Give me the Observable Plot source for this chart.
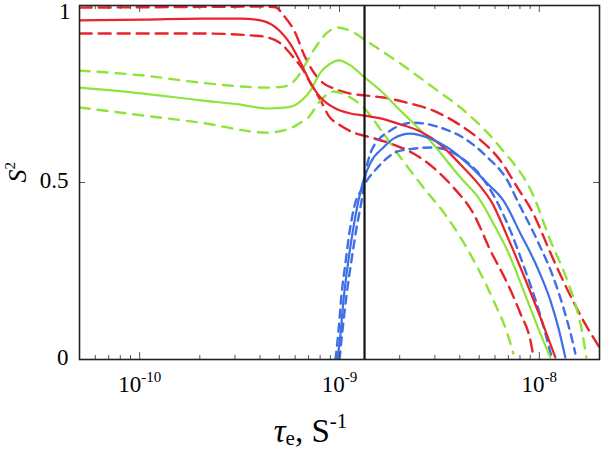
<!DOCTYPE html>
<html><head><meta charset="utf-8">
<script src="https://cdn.jsdelivr.net/npm/d3@7"></script>
<script src="https://cdn.jsdelivr.net/npm/@observablehq/plot@0.6"></script>
<style>
body{margin:0;background:#fff}
svg{display:block}
svg text, svg tspan{font-family:'Liberation Serif','Times New Roman',serif}
</style>
</head><body><div id="chart"></div>
<script>
// tau (s) , S^2 pairs
const redMid = [[5.01e-11,0.958],[1.05e-10,0.960],[2.02e-10,0.963],[3.20e-10,0.963],[4.03e-10,0.958],[4.79e-10,0.938],[5.69e-10,0.890],[6.38e-10,0.839],[7.16e-10,0.782],[8.04e-10,0.740],[9.55e-10,0.709],[1.135e-9,0.695],[1.334e-9,0.689],[1.603e-9,0.681],[2.018e-9,0.664],[2.54e-9,0.644],[3.20e-9,0.607],[4.03e-9,0.551],[5.07e-9,0.489],[5.82e-9,0.441],[6.92e-9,0.347],[8.04e-9,0.260],[1.012e-8,0.119],[1.202e-8,0.006]];
const redHi = [[5.01e-11,0.994],[2.02e-10,0.996],[4.03e-10,0.997],[4.79e-10,0.995],[5.25e-10,0.972],[6.03e-10,0.921],[6.61e-10,0.864],[7.33e-10,0.816],[8.32e-10,0.780],[9.33e-10,0.766],[1.135e-9,0.751],[1.334e-9,0.746],[1.66e-9,0.740],[2.265e-9,0.723],[2.95e-9,0.703],[3.89e-9,0.667],[4.90e-9,0.627],[6.38e-9,0.562],[7.76e-9,0.486],[9.33e-9,0.412],[1.135e-8,0.302],[1.38e-8,0.198],[1.66e-8,0.110],[2.0e-8,0.034]];
const redLo = [[5.01e-11,0.921],[2.02e-10,0.921],[3.715e-10,0.915],[4.365e-10,0.910],[5.07e-10,0.893],[5.89e-10,0.853],[6.61e-10,0.816],[7.16e-10,0.780],[8.04e-10,0.732],[8.81e-10,0.689],[1.012e-9,0.661],[1.175e-9,0.641],[1.38e-9,0.630],[1.80e-9,0.610],[2.344e-9,0.582],[2.95e-9,0.542],[3.715e-9,0.486],[4.68e-9,0.412],[5.69e-9,0.308],[6.92e-9,0.215],[8.04e-9,0.130],[9.02e-9,0.054],[9.33e-9,0.011]];
const greenMid = [[5.01e-11,0.768],[1.05e-10,0.751],[2.02e-10,0.732],[3.20e-10,0.720],[4.365e-10,0.709],[5.50e-10,0.712],[6.17e-10,0.723],[7.16e-10,0.760],[8.04e-10,0.811],[9.02e-10,0.836],[9.89e-10,0.845],[1.135e-9,0.831],[1.303e-9,0.802],[1.603e-9,0.760],[2.018e-9,0.703],[2.754e-9,0.627],[4.03e-9,0.514],[5.07e-9,0.449],[5.89e-9,0.384],[6.92e-9,0.308],[8.71e-9,0.167],[1.012e-8,0.073],[1.135e-8,0.006]];
const greenHi = [[5.01e-11,0.816],[1.05e-10,0.802],[2.02e-10,0.782],[4.365e-10,0.768],[5.25e-10,0.771],[6.24e-10,0.802],[6.61e-10,0.825],[7.41e-10,0.873],[8.71e-10,0.924],[9.77e-10,0.938],[1.175e-9,0.924],[1.38e-9,0.898],[2.018e-9,0.836],[2.95e-9,0.768],[4.365e-9,0.695],[6.38e-9,0.599],[9.33e-9,0.463],[1.135e-8,0.336],[1.38e-8,0.223],[1.531e-8,0.147],[1.64e-8,0.076],[1.718e-8,0.006]];
const greenLo = [[5.01e-11,0.712],[1.05e-10,0.689],[2.02e-10,0.669],[4.365e-10,0.641],[5.69e-10,0.653],[6.38e-10,0.669],[6.92e-10,0.681],[8.04e-10,0.732],[9.33e-10,0.757],[1.135e-9,0.740],[1.318e-9,0.712],[1.66e-9,0.638],[2.018e-9,0.571],[2.63e-9,0.486],[3.467e-9,0.401],[4.03e-9,0.345],[4.90e-9,0.260],[5.89e-9,0.167],[6.92e-9,0.073],[7.41e-9,0.017]];
const blueMid = [[9.77e-10,0.0],[1.012e-9,0.073],[1.047e-9,0.167],[1.096e-9,0.260],[1.161e-9,0.356],[1.23e-9,0.435],[1.318e-9,0.506],[1.429e-9,0.556],[1.66e-9,0.599],[1.862e-9,0.624],[2.265e-9,0.638],[2.754e-9,0.627],[3.467e-9,0.599],[4.365e-9,0.554],[5.50e-9,0.497],[6.61e-9,0.449],[8.04e-9,0.356],[9.77e-9,0.260],[1.135e-8,0.167],[1.245e-8,0.090],[1.349e-8,0.006]];
const blueHi = [[1.0e-9,0.0],[1.035e-9,0.082],[1.084e-9,0.181],[1.148e-9,0.280],[1.216e-9,0.370],[1.303e-9,0.463],[1.365e-9,0.540],[1.462e-9,0.596],[1.80e-9,0.647],[2.344e-9,0.669],[3.20e-9,0.655],[4.365e-9,0.619],[5.50e-9,0.571],[6.92e-9,0.506],[7.76e-9,0.449],[9.77e-9,0.336],[1.175e-8,0.232],[1.318e-8,0.147],[1.462e-8,0.054],[1.514e-8,0.017]];
const blueLo = [[9.55e-10,0.0],[9.89e-10,0.082],[1.023e-9,0.181],[1.072e-9,0.274],[1.122e-9,0.359],[1.19e-9,0.435],[1.29e-9,0.480],[1.549e-9,0.542],[2.018e-9,0.590],[2.95e-9,0.599],[4.03e-9,0.571],[5.07e-9,0.520],[6.10e-9,0.449],[7.16e-9,0.364],[8.51e-9,0.251],[1.012e-8,0.124],[1.16e-8,0.0]];

const markerTau = [1.334e-9];
const xDomain = [5e-11, 2e-8];
const xMajor = [1e-10, 1e-9, 1e-8];
const xMajorLabels = ["10^-10", "10^-9", "10^-8"];
const xMinor = [6e-11,7e-11,8e-11,9e-11,2e-10,3e-10,4e-10,5e-10,6e-10,7e-10,8e-10,9e-10,2e-9,3e-9,4e-9,5e-9,6e-9,7e-9,8e-9,9e-9];
const yTicksLow = [0, 0.5];
const yTickTop = [1];
const yTickLabels = {0: "0", 0.5: "0.5", 1: "1"};
const xTitle = "τe, S-1";
const yTitle = "S2";

const RED = "#e8232b", GREEN = "#8ee43a", BLUE = "#3f6fe6";
const series = [
  {pts: redHi, color: RED, dash: "12,7"},
  {pts: redLo, color: RED, dash: "12,7"},
  {pts: greenHi, color: GREEN, dash: "10,8"},
  {pts: greenLo, color: GREEN, dash: "10,8"},
  {pts: blueHi, color: BLUE, dash: "8,6"},
  {pts: blueLo, color: BLUE, dash: "8,6"},
  {pts: greenMid, color: GREEN, dash: null},
  {pts: redMid, color: RED, dash: null},
  {pts: blueMid, color: BLUE, dash: null}
];

const W = 601, H = 449, mL = 79, mR = 2, mT = 5, mB = 90;
const frameW = W - mL - mR, frameH = H - mT - mB;
const allYTicks = [...yTicksLow, ...yTickTop];

const chart = Plot.plot({
  width: W, height: H,
  marginLeft: mL, marginRight: mR, marginTop: mT, marginBottom: mB,
  x: {type: "log", domain: xDomain},
  y: {domain: [0, 1]},
  marks: [
    ...series.map(s => Plot.line(s.pts, {x: d => d[0], y: d => d[1], stroke: s.color, strokeWidth: s.dash ? 2.4 : 2.2, strokeDasharray: s.dash, curve: "monotone-x", clip: true})),
    Plot.ruleX(markerTau, {stroke: "#111", strokeWidth: 2.2}),
    // inward ticks
    Plot.ruleX(xMinor, {insetTop: frameH - 4, stroke: "#555", strokeWidth: 1}),
    Plot.ruleX(xMinor, {insetBottom: frameH - 4, stroke: "#555", strokeWidth: 1}),
    Plot.ruleX(xMajor, {insetTop: frameH - 7, stroke: "#555", strokeWidth: 1}),
    Plot.ruleX(xMajor, {insetBottom: frameH - 7, stroke: "#555", strokeWidth: 1}),
    Plot.ruleY(allYTicks, {insetRight: frameW - 6, stroke: "#555", strokeWidth: 1}),
    Plot.ruleY(allYTicks, {insetLeft: frameW - 6, stroke: "#555", strokeWidth: 1}),
    Plot.frame({stroke: "#222", strokeWidth: 1.6}),
    Plot.axisX(xMajor, {tickSize: 0, tickPadding: 16, fontSize: 23, tickFormat: d => xMajorLabels[xMajor.indexOf(d)]}),
    Plot.axisY(yTicksLow, {tickSize: 0, tickPadding: 11, fontSize: 23, dy: -2, tickFormat: d => yTickLabels[d]}),
    Plot.axisY(yTickTop, {tickSize: 0, tickPadding: 9, fontSize: 23, dy: 6, tickFormat: d => yTickLabels[d]}),
    Plot.text([xTitle], {text: d => d, frameAnchor: "bottom", dx: -29, dy: 82, lineAnchor: "bottom", fontSize: 33}),
    Plot.text([yTitle], {text: d => d, frameAnchor: "left", dx: -62, rotate: -90, fontSize: 26})
  ]
});
document.getElementById("chart").append(chart);

const svg = d3.select(chart);
svg.selectAll('g[aria-label="x-axis tick label"] text').each(function () {
  const t = d3.select(this);
  const [base, exp] = t.text().split("^");
  t.text(null);
  t.append("tspan").text(base);
  t.append("tspan").attr("dy", -10).attr("font-size", 15).text(exp);
});
svg.selectAll("text").each(function () {
  const t = d3.select(this);
  const s = t.text();
  if (s === xTitle) {
    t.text(null);
    t.append("tspan").attr("font-style", "italic").text("τ");
    t.append("tspan").attr("dy", 3).attr("font-size", 21).text("e");
    t.append("tspan").attr("dy", -3).text(", S");
    t.append("tspan").attr("dy", -14).attr("font-size", 21).text("-1");
  } else if (s === yTitle) {
    t.text(null);
    t.append("tspan").attr("font-style", "italic").text("S");
    t.append("tspan").attr("dy", -11).attr("font-size", 15).text("2");
  }
});
</script>
</body></html>
